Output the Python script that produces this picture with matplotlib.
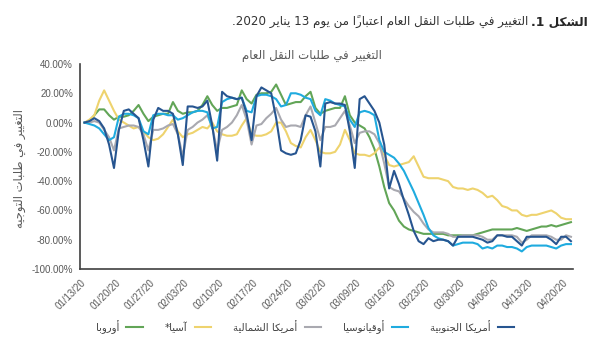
import numpy as np
import pandas as pd
import matplotlib
matplotlib.use("Agg")
import matplotlib.pyplot as plt
import matplotlib.dates as mdates
from matplotlib.ticker import FuncFormatter

# data: daily change in transit requests vs 13 Jan 2020 (%)
dates = pd.date_range("2020-01-13", periods=100, freq="D")
tick_dates = pd.date_range("2020-01-13", "2020-04-20", freq="7D")

south_america = [0, 1, 3, 1, -4, -15, -31, -5, 8, 9, 6, 3, -12, -30, 2, 10, 8, 8, 6, -8,
                 -29, 11, 11, 10, 11, 15, -2, -26, 21, 18, 17, 16, 17, 6, -12, 18, 24, 22, 20, 3,
                 -19, -21, -22, -21, -12, 5, 4, -6, -30, 13, 14, 13, 13, 12, -6, -31, 16, 18, 13, 8,
                 0, -15, -45, -33, -42, -53, -63, -74, -81, -83, -79, -81, -80, -80, -81, -84, -78, -78, -78, -78,
                 -79, -80, -82, -81, -77, -77, -78, -78, -81, -84, -78, -78, -78, -78, -78, -80, -83, -78, -78, -81]
oceania = [0, -1, -2, -4, -8, -12, -10, 4, 6, 6, 5, 3, -6, -8, 5, 6, 6, 5, 5, 2,
           3, 5, 7, 8, 8, 7, -4, -3, 14, 16, 17, 16, 17, 8, 7, 18, 19, 19, 18, 16,
           11, 12, 20, 20, 19, 17, 16, 8, 5, 16, 15, 13, 12, 11, 2, -3, 7, 8, 7, 5,
           -12, -20, -22, -24, -28, -33, -40, -47, -55, -63, -72, -77, -79, -80, -81, -84, -83, -82, -82, -82,
           -83, -86, -85, -86, -84, -84, -85, -85, -86, -88, -85, -84, -84, -84, -84, -85, -86, -84, -83, -83]
north_america = [0, 0, 1, 0, -5, -10, -19, -4, -3, -2, -2, -3, -8, -19, -5, -5, -4, -2, -1, -8,
                 -23, -5, -3, 0, 2, 5, -3, -19, -5, -3, 0, 5, 12, 2, -15, -2, -1, 3, 6, 10,
                 2, -3, -2, -2, -3, 5, 11, 0, -12, -3, -3, -2, 3, 8, -2, -14, -7, -6, -6, -8,
                 -14, -28, -44, -46, -47, -52, -57, -61, -64, -69, -73, -75, -75, -75, -76, -78, -78, -77, -77, -77,
                 -77, -78, -80, -80, -77, -77, -77, -77, -78, -82, -80, -77, -77, -77, -77, -78, -80, -80, -77, -78]
asia = [0, 2, 5, 15, 22, 15, 8, 2, 0, -2, -4, -3, -6, -10, -12, -11, -8, -3, 2, -6,
        -10, -8, -7, -5, -3, -4, 0, -6, -8, -9, -9, -8, -2, 3, -8, -9, -9, -8, -6, 0,
        0, -6, -14, -16, -17, -10, -5, -12, -20, -21, -21, -20, -15, -5, -12, -21, -22, -22, -23, -21,
        -17, -22, -29, -30, -29, -28, -27, -23, -30, -37, -38, -38, -38, -39, -40, -44, -45, -45, -46, -45,
        -46, -48, -51, -50, -53, -57, -58, -60, -60, -63, -64, -63, -63, -62, -61, -60, -62, -65, -66, -66]
europe = [0, 1, 5, 9, 9, 5, 2, 4, 4, 5, 8, 12, 6, 1, 4, 5, 6, 6, 14, 8,
          6, 7, 7, 8, 12, 18, 12, 8, 10, 10, 11, 12, 22, 16, 13, 19, 20, 20, 21, 26,
          19, 12, 13, 14, 14, 18, 21, 10, 6, 8, 9, 10, 10, 18, 5, 0, -2, -4, -10, -18,
          -30, -44, -55, -60, -67, -71, -73, -74, -75, -76, -76, -76, -76, -76, -77, -77, -77, -77, -77, -77,
          -76, -75, -74, -73, -73, -73, -73, -73, -72, -73, -74, -73, -72, -71, -71, -70, -71, -70, -69, -68]

# ---- simple arabic shaping (matplotlib has no complex text layout) ----
FORMS = {  # isolated, final, initial, medial
    "\u0622": (0xFE81, 0xFE82, None, None), "\u0623": (0xFE83, 0xFE84, None, None),
    "\u0627": (0xFE8D, 0xFE8E, None, None), "\u0628": (0xFE8F, 0xFE90, 0xFE91, 0xFE92),
    "\u0629": (0xFE93, 0xFE94, None, None), "\u062A": (0xFE95, 0xFE96, 0xFE97, 0xFE98),
    "\u062C": (0xFE9D, 0xFE9E, 0xFE9F, 0xFEA0), "\u062F": (0xFEA9, 0xFEAA, None, None),
    "\u0631": (0xFEAD, 0xFEAE, None, None), "\u0633": (0xFEB1, 0xFEB2, 0xFEB3, 0xFEB4),
    "\u0634": (0xFEB5, 0xFEB6, 0xFEB7, 0xFEB8), "\u0637": (0xFEC1, 0xFEC2, 0xFEC3, 0xFEC4),
    "\u0639": (0xFEC9, 0xFECA, 0xFECB, 0xFECC), "\u063A": (0xFECD, 0xFECE, 0xFECF, 0xFED0),
    "\u0641": (0xFED1, 0xFED2, 0xFED3, 0xFED4), "\u0642": (0xFED5, 0xFED6, 0xFED7, 0xFED8),
    "\u0643": (0xFED9, 0xFEDA, 0xFEDB, 0xFEDC), "\u0644": (0xFEDD, 0xFEDE, 0xFEDF, 0xFEE0),
    "\u0645": (0xFEE1, 0xFEE2, 0xFEE3, 0xFEE4), "\u0646": (0xFEE5, 0xFEE6, 0xFEE7, 0xFEE8),
    "\u0647": (0xFEE9, 0xFEEA, 0xFEEB, 0xFEEC), "\u0648": (0xFEED, 0xFEEE, None, None),
    "\u064A": (0xFEF1, 0xFEF2, 0xFEF3, 0xFEF4),
}
LAM_ALEF = {"\u0627": (0xFEFB, 0xFEFC), "\u0623": (0xFEF7, 0xFEF8), "\u0622": (0xFEF5, 0xFEF6)}


def is_mark(c):
    return "\u064B" <= c <= "\u0652"


def shape(s):
    out = []
    i = 0
    n = len(s)
    while i < n:
        c = s[i]
        if c not in FORMS:
            out.append(c)
            i += 1
            continue
        j = i - 1
        while j >= 0 and is_mark(s[j]):
            j -= 1
        p = s[j] if j >= 0 else None
        k = i + 1
        while k < n and is_mark(s[k]):
            k += 1
        nx = s[k] if k < n else None
        join_prev = p in FORMS and FORMS[p][2] is not None
        if c == "\u0644" and nx in LAM_ALEF:
            out.append(chr(LAM_ALEF[nx][1 if join_prev else 0]))
            i = k + 1
            continue
        join_next = FORMS[c][2] is not None and nx in FORMS
        iso, fin, ini, med = FORMS[c]
        if join_prev and join_next:
            g = med
        elif join_prev:
            g = fin
        elif join_next:
            g = ini
        else:
            g = iso
        out.append(chr(g))
        i += 1
    return "".join(out)


def ar(s):
    t = shape(s)
    clusters = []
    i = 0
    while i < len(t):
        if t[i].isdigit():
            j = i
            while j < len(t) and (t[j].isdigit() or (t[j] in ".,/" and j + 1 < len(t) and t[j + 1].isdigit())):
                j += 1
        else:
            j = i + 1
            while j < len(t) and is_mark(t[j]):
                j += 1
        clusters.append(t[i:j])
        i = j
    return "".join(reversed(clusters))


series = [
    ("أوروبا", europe, "#62a557"),
    ("آسيا*", asia, "#eed36e"),
    ("أمريكا الشمالية", north_america, "#a9a9b0"),
    ("أوقيانوسيا", oceania, "#1fabdf"),
    ("أمريكا الجنوبية", south_america, "#275590"),
]

plt.rcParams["font.family"] = ["DejaVu Sans"]

fig = plt.figure(figsize=(6, 3.46), dpi=100)
ax = fig.add_axes([80 / 600, 1 - 269 / 346, 493 / 600, 205 / 346])

handles = []
for name, vals, col in series:
    h, = ax.plot(dates, vals, color=col, lw=1.5, label=ar(name))
    handles.append(h)

ax.set_ylim(-100, 40)
ax.set_yticks(np.arange(-100, 41, 20))
ax.yaxis.set_major_formatter(FuncFormatter(lambda v, p: f"{v:.2f}%"))
ax.set_xlim(dates[0] - pd.Timedelta(hours=22), dates[-1] + pd.Timedelta(hours=10))
ax.set_xticks(tick_dates)
ax.xaxis.set_major_formatter(mdates.DateFormatter("%m/%d/%y"))

for lab in ax.get_yticklabels():
    lab.set_family("Liberation Sans")
    lab.set_fontsize(7)
    lab.set_color("#595959")
for lab in ax.get_xticklabels():
    lab.set_family("Liberation Sans")
    lab.set_fontsize(7)
    lab.set_color("#595959")
    lab.set_rotation(45)
    lab.set_ha("right")
    lab.set_va("center")
    lab.set_rotation_mode("anchor")

ax.tick_params(axis="both", length=0)
ax.tick_params(axis="y", pad=5)
ax.tick_params(axis="x", pad=9)
for side in ["top", "right"]:
    ax.spines[side].set_visible(False)
ax.spines["left"].set_color("#404040")
ax.spines["bottom"].set_color("#404040")
ax.spines["left"].set_linewidth(1.2)
ax.spines["bottom"].set_linewidth(1.2)

ax.set_ylabel(ar("التغيير في طلبات التوجيه"), fontsize=8.3, color="#595959")
ax.yaxis.set_label_coords(-54 / 493, 0.49)

fig.text(312 / 600, 1 - 56 / 346, ar("التغيير في طلبات النقل العام"), ha="center", va="center",
         fontsize=8.5, color="#595959")

# title: bold lead-in on the right, regular text to its left
renderer = fig.canvas.get_renderer()
t1 = fig.text(588 / 600, 1 - 22 / 346, ar("الشكل 1."), ha="right", va="center",
              fontsize=8.8, fontweight="bold", color="#262626")
bb = t1.get_window_extent(renderer)
fig.text((bb.x0 - 3) / 600, 1 - 22 / 346, ar("التغيير في طلبات النقل العام اعتباراً من يوم 13 يناير 2020."),
         ha="right", va="center", fontsize=8.6, color="#333333")

fig.legend(handles, [h.get_label() for h in handles], loc="center", bbox_to_anchor=(305 / 600, 1 - 327 / 346),
           ncol=5, frameon=False, markerfirst=False, handlelength=1.6, columnspacing=2.2,
           handletextpad=0.7, fontsize=7.3, labelcolor="#404040")

fig.savefig("out.png", dpi=100, facecolor="white")
